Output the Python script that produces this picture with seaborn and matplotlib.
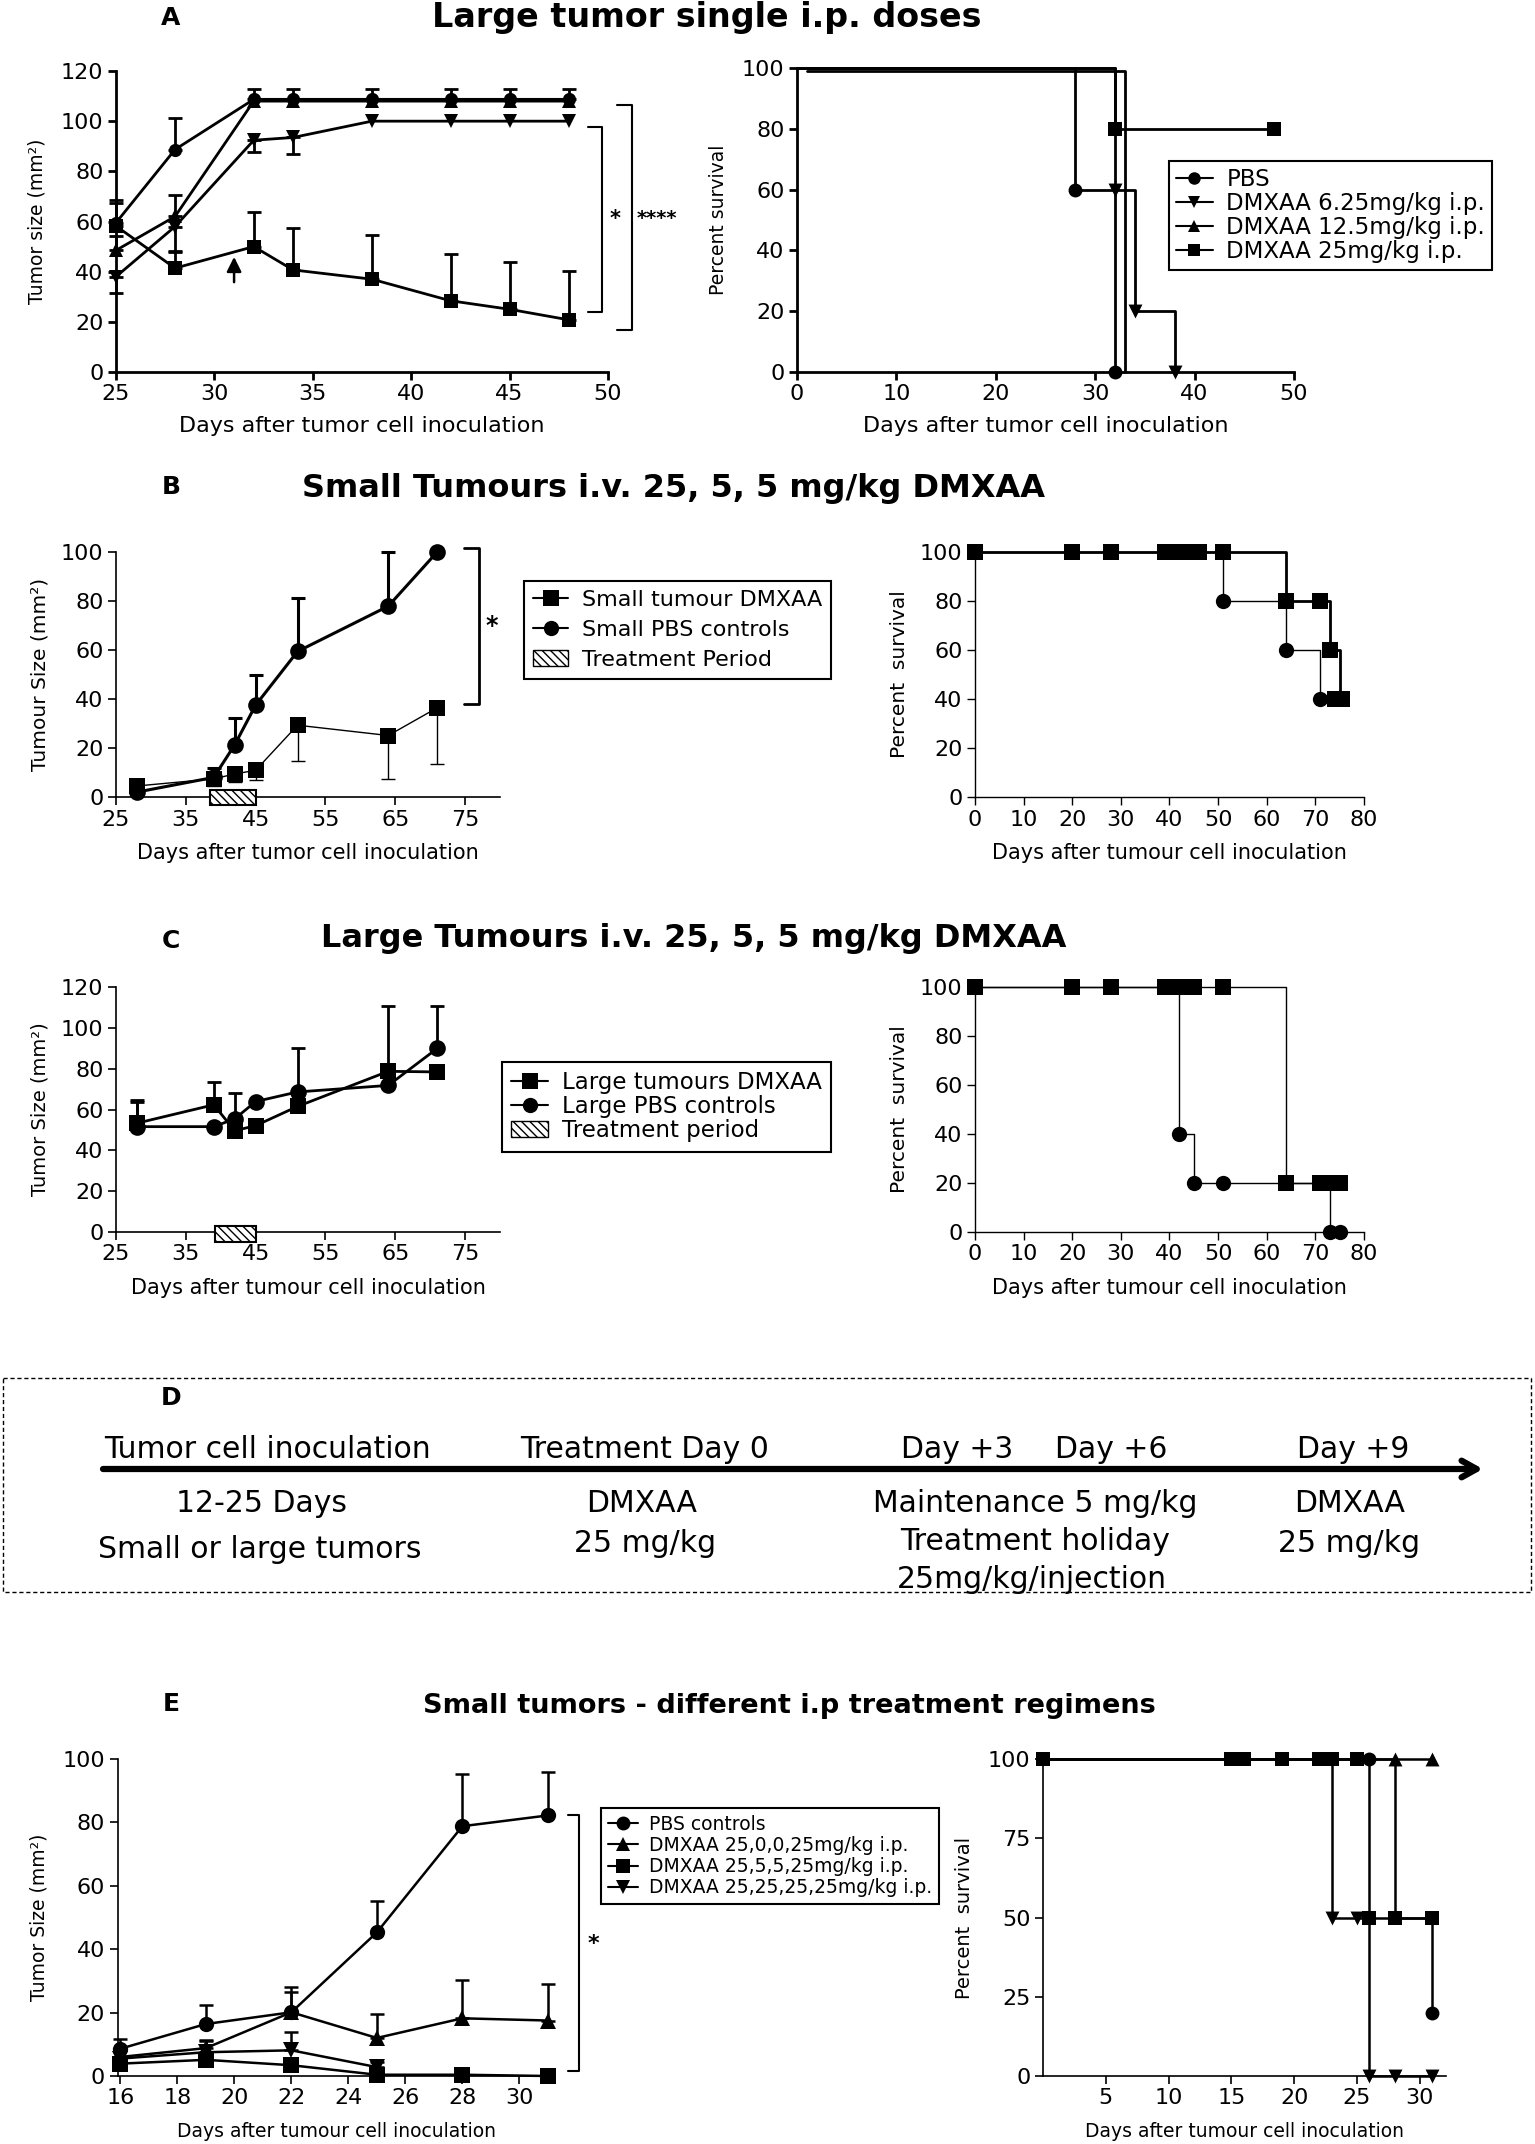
import matplotlib
matplotlib.use("Agg")
import matplotlib.pyplot as plt
from matplotlib.lines import Line2D
from matplotlib.patches import Rectangle, Patch
import seaborn as sns

W, H = 1535, 2144

# ---------------- data ----------------
# A left: large tumours, single i.p. doses (mean tumour size, one-sided SEM)
a_days = [25, 28, 32, 34, 38, 42, 45, 48]
a_pbs = [59.5, 88.7, 108.7, 108.7, 108.7, 108.7, 108.7, 108.7]
a_pbs_err = [8.0, 12.6, 4.3, 4.3, 4.3, 4.3, 4.3, 4.3]
a_d625 = [38.0, 58.0, 92.4, 93.5, 100, 100, 100, 100]
a_d625_err = [6.6, 10.0, 4.7, 6.4, 0, 0, 0, 0]          # below the mean
a_d125 = [48.5, 62.0, 108.0, 108.0, 108.0, 108.0, 108.0, 108.0]
a_d125_err = [5.7, 8.4, 0, 0, 0, 0, 0, 0]
a_d25 = [58.2, 41.4, 50.0, 40.7, 37.0, 28.4, 25.0, 20.8]
a_d25_err = [10.3, 7.0, 13.6, 16.8, 17.5, 18.6, 18.9, 19.6]
a_labels = ["PBS", "DMXAA 6.25mg/kg i.p.", "DMXAA 12.5mg/kg i.p.", "DMXAA 25mg/kg i.p."]

# A right: survival (step points + marked points)
a_s_pbs_t, a_s_pbs = [0, 28, 32], [100, 60, 0]
a_m_pbs_t, a_m_pbs = [28, 32], [60, 0]
a_s_d625_t, a_s_d625 = [0, 32, 34, 38], [100, 60, 20, 0]
a_m_d625_t, a_m_d625 = [32, 34, 38], [60, 20, 0]
a_s_d125_t, a_s_d125 = [1, 33], [99, 0]
a_s_d25_t, a_s_d25 = [0, 32, 48], [100, 80, 80]
a_m_d25_t, a_m_d25 = [32, 48], [80, 80]

# B left: small tumours i.v.
b_days = [28, 39, 42, 45, 51, 64, 71]
b_pbs = [2.0, 8.0, 21.3, 37.5, 59.4, 77.9, 100.0]
b_pbs_err = [0, 3.9, 11.0, 12.4, 21.8, 22.1, 0]
b_dmx = [4.5, 7.4, 9.4, 10.9, 29.3, 25.1, 36.4]
b_dmx_err = [0, 3.0, 3.4, 4.1, 14.7, 17.7, 22.8]        # below the mean
b_treat = [38.5, 45.1]
b_labels = ["Small tumour DMXAA", "Small PBS controls", "Treatment Period"]

# B right: survival
b_s_dmx_t, b_s_dmx = [0, 64, 73, 75], [100, 80, 60, 40]
b_m_dmx_t = [0, 20, 28, 39, 40, 41, 42, 43, 44, 45, 46, 51, 64, 71, 73, 74, 75.5]
b_m_dmx = [100, 100, 100, 100, 100, 100, 100, 100, 100, 100, 100, 100, 80, 80, 60, 40, 40]
b_s_pbs_t, b_s_pbs = [0, 51, 64, 71], [100, 80, 60, 40]
b_m_pbs_t, b_m_pbs = [51, 64, 71], [80, 60, 40]

# C left: large tumours i.v.
c_days = [28, 39, 42, 45, 51, 64, 71]
c_dmx = [53.3, 62.3, 49.6, 52.1, 61.5, 78.7, 78.4]
c_dmx_err = [11.5, 11.2, 0, 0, 0, 32.1, 0]
c_pbs = [51.6, 51.6, 55.4, 63.9, 68.6, 71.8, 89.9]
c_pbs_err = [12.0, 0, 12.6, 0, 21.7, 0, 20.9]
c_treat = [39.2, 45.1]
c_labels = ["Large tumours DMXAA", "Large PBS controls", "Treatment period"]

# C right: survival
c_s_dmx_t, c_s_dmx = [0, 64, 76], [100, 20, 20]
c_m_dmx_t = [0, 20, 28, 39, 42, 45, 51, 64, 71, 72, 73, 74, 75]
c_m_dmx = [100, 100, 100, 100, 100, 100, 100, 20, 20, 20, 20, 20, 20]
c_s_pbs_t, c_s_pbs = [0, 42, 45, 73, 75], [100, 40, 20, 0, 0]
c_m_pbs_t, c_m_pbs = [42, 45, 51, 73, 75], [40, 20, 20, 0, 0]

# E left: small tumours, different i.p. regimens
e_days = [16, 19, 22, 25, 28, 31]
e_pbs = [8.6, 16.4, 20.1, 45.3, 78.8, 82.2]
e_pbs_err = [3.1, 6.0, 7.9, 9.8, 16.6, 13.8]
e_r25005 = [6.0, 8.8, 20.1, 12.0, 18.2, 17.5]
e_r25005_err = [0, 2.7, 6.5, 7.5, 12.2, 11.4]
e_r2555 = [3.9, 5.1, 3.4, 0.4, 0.4, 0.0]
e_r2525_days = [16, 19, 22, 25]
e_r2525 = [5.5, 7.5, 8.1, 2.8]
e_r2525_err = [0, 3.5, 5.7, 1.5]
e_labels = ["PBS controls", "DMXAA 25,0,0,25mg/kg i.p.",
            "DMXAA 25,5,5,25mg/kg i.p.", "DMXAA 25,25,25,25mg/kg i.p."]

# E right: survival
e_s_pbs_t, e_s_pbs = [0, 28, 31], [100, 50, 20]
e_m_pbs_t, e_m_pbs = [26, 31], [100, 20]
e_s_r25005_t, e_s_r25005 = [0, 31], [100, 100]
e_m_r25005_t, e_m_r25005 = [28, 31], [100, 100]
e_s_r2555_t, e_s_r2555 = [0, 26, 31], [100, 50, 50]
e_m_r2555_t = [0, 15, 16, 19, 22, 23, 25, 26, 28, 31]
e_m_r2555 = [100, 100, 100, 100, 100, 100, 100, 50, 50, 50]
e_s_r2525_t, e_s_r2525 = [0, 23, 26, 31], [100, 50, 0, 0]
e_m_r2525_t, e_m_r2525 = [23, 25, 26, 28, 31], [50, 50, 0, 0, 0]

# ---------------- style ----------------
sns.set_theme(style="ticks", rc={
    "axes.edgecolor": "black", "xtick.color": "black", "ytick.color": "black",
    "axes.labelcolor": "black", "text.color": "black",
    "xtick.direction": "out", "ytick.direction": "out",
    "hatch.linewidth": 1.0, "legend.frameon": True,
})
plt.rcParams["font.family"] = ["DejaVu Sans"]

fig = plt.figure(figsize=(W / 100, H / 100), dpi=100)

# background axes in pixel units for titles, letters and panel D
bg = fig.add_axes([0, 0, 1, 1], zorder=-1)
bg.set_xlim(0, W)
bg.set_ylim(H, 0)
bg.axis("off")


def make_ax(x0, x1, ytop, ybot):
    return fig.add_axes([x0 / W, 1 - ybot / H, (x1 - x0) / W, (ybot - ytop) / H])


def style_ax(ax, lw, tick_size=15):
    sns.despine(ax=ax)
    for side in ["left", "bottom"]:
        ax.spines[side].set_linewidth(lw)
    ax.tick_params(length=6, width=lw, labelsize=tick_size, pad=3)
    ax.set_facecolor("none")


def growth(ax, x, y, err, marker, ms, lw, below=False, cap=5):
    sns.lineplot(x=x, y=y, ax=ax, color="black", marker=marker, markersize=ms,
                 markeredgewidth=0, linewidth=lw, estimator=None, sort=False,
                 clip_on=False, zorder=3)
    ex = [xx for xx, e in zip(x, err) if e > 0]
    ey = [yy for yy, e in zip(y, err) if e > 0]
    ee = [e for e in err if e > 0]
    if ex:
        zeros = [0] * len(ee)
        yerr = [ee, zeros] if below else [zeros, ee]
        ax.errorbar(ex, ey, yerr=yerr, fmt="none", ecolor="black", elinewidth=lw,
                    capsize=cap, capthick=lw, zorder=2, clip_on=False)


def survival(ax, t, s, mt, ms_, marker, size, lw):
    sns.lineplot(x=t, y=s, ax=ax, color="black", linewidth=lw, estimator=None,
                 sort=False, drawstyle="steps-post", clip_on=False, zorder=2)
    if mt:
        sns.scatterplot(x=mt, y=ms_, ax=ax, color="black", marker=marker,
                        s=size ** 2, linewidth=0, clip_on=False, zorder=3)


def bracket(ax, x0, x1, ytop, ybot, lw=1.5):
    ax.plot([x0, x1, x1, x0], [ytop, ytop, ybot, ybot], color="black", lw=lw,
            clip_on=False)


def handle(marker, ms=9, lw=1.5):
    return Line2D([0], [0], color="black", marker=marker, markersize=ms,
                  markeredgewidth=0, lw=lw)


def add_legend(handles, labels, x0, y0, fs, spacing, hl=1.6, pad=0.4):
    leg = fig.legend(handles, labels, loc="upper left",
                     bbox_to_anchor=(x0 / W, 1 - y0 / H), fancybox=False,
                     edgecolor="black", borderaxespad=0, fontsize=fs,
                     handlelength=hl, labelspacing=spacing, handletextpad=0.6,
                     borderpad=pad, framealpha=1)
    leg.get_frame().set_linewidth(1.5)
    return leg


treat_hatch = "\\\\\\\\"

# ---------------- titles / panel letters ----------------
bg.text(171, 18, "A", fontsize=18, fontweight="bold", ha="center", va="center")
bg.text(707, 18, "Large tumor single i.p. doses", fontsize=24, fontweight="bold",
        ha="center", va="center")
bg.text(171, 487, "B", fontsize=18, fontweight="bold", ha="center", va="center")
bg.text(673, 489, "Small Tumours i.v. 25, 5, 5 mg/kg DMXAA", fontsize=23,
        fontweight="bold", ha="center", va="center")
bg.text(171, 941, "C", fontsize=18, fontweight="bold", ha="center", va="center")
bg.text(694, 938, "Large Tumours i.v. 25, 5, 5 mg/kg DMXAA", fontsize=23,
        fontweight="bold", ha="center", va="center")
bg.text(171, 1704, "E", fontsize=18, fontweight="bold", ha="center", va="center")
bg.text(789, 1706, "Small tumors - different i.p treatment regimens", fontsize=19.5,
        fontweight="bold", ha="center", va="center")

# ---------------- A left ----------------
ax = make_ax(116, 608, 71, 372)
style_ax(ax, 2.0, 16)
growth(ax, a_days, a_pbs, a_pbs_err, "o", 9.5, 2.0)
growth(ax, a_days, a_d625, a_d625_err, "v", 9.5, 2.0, below=True)
growth(ax, a_days, a_d125, a_d125_err, "^", 9.5, 2.0)
growth(ax, a_days, a_d25, a_d25_err, "s", 9.5, 2.0)
ax.set_xlim(25, 50)
ax.set_ylim(0, 120)
ax.set_xticks(range(25, 51, 5))
ax.set_yticks(range(0, 121, 20))
ax.set_xlabel("Days after tumor cell inoculation", fontsize=16, labelpad=8)
ax.set_ylabel("Tumor size (mm²)", fontsize=13.5, labelpad=10)
ax.annotate("", xy=(31, 47), xytext=(31, 34.7),
            arrowprops=dict(arrowstyle="-|>", color="black", lw=1.8, mutation_scale=22))
bracket(ax, 49.0, 49.7, 97.7, 23.9)
bracket(ax, 50.45, 51.2, 106.6, 16.6)
ax.text(50.35, 61, "*", fontsize=15, fontweight="bold", ha="center", va="center")
ax.text(52.5, 61, "****", fontsize=14, fontweight="bold", ha="center", va="center")

# ---------------- A right ----------------
ax = make_ax(797, 1294, 68, 372)
style_ax(ax, 2.0, 16)
survival(ax, a_s_pbs_t, a_s_pbs, a_m_pbs_t, a_m_pbs, "o", 10, 2.0)
survival(ax, a_s_d625_t, a_s_d625, a_m_d625_t, a_m_d625, "v", 10, 2.0)
survival(ax, a_s_d125_t, a_s_d125, [], [], "^", 10, 2.0)
survival(ax, a_s_d25_t, a_s_d25, a_m_d25_t, a_m_d25, "s", 10, 2.0)
ax.set_xlim(0, 50)
ax.set_ylim(0, 100)
ax.set_xticks(range(0, 51, 10))
ax.set_yticks(range(0, 101, 20))
ax.set_xlabel("Days after tumor cell inoculation", fontsize=16, labelpad=8)
ax.set_ylabel("Percent survival", fontsize=13.5, labelpad=10)
add_legend([handle("o"), handle("v"), handle("^"), handle("s")], a_labels,
           1169, 161, 16.5, 0.05, pad=0.3)

# ---------------- B left ----------------
ax = make_ax(116, 500, 552, 797)
style_ax(ax, 1.2, 16)
growth(ax, b_days, b_pbs, b_pbs_err, "o", 12, 2.2)
growth(ax, b_days, b_dmx, b_dmx_err, "s", 12, 1.0, below=True)
ax.add_patch(Rectangle((b_treat[0], -3.1), b_treat[1] - b_treat[0], 6.1,
                       facecolor="white", edgecolor="black", hatch=treat_hatch,
                       lw=1.5, clip_on=False, zorder=4))
ax.set_xlim(25, 80)
ax.set_ylim(0, 100)
ax.set_xticks(range(25, 76, 10))
ax.set_yticks(range(0, 101, 20))
ax.set_xlabel("Days after tumor cell inoculation", fontsize=15, labelpad=10)
ax.set_ylabel("Tumour Size (mm²)", fontsize=14.5, labelpad=8)
bracket(ax, 74.9, 77.0, 101.8, 38.0, lw=2)
ax.text(78.8, 69.8, "*", fontsize=17, fontweight="bold", ha="center", va="center")
add_legend([handle("s", 11), handle("o", 11),
            Patch(facecolor="white", edgecolor="black", hatch=treat_hatch)],
           b_labels, 524, 581, 16, 0.45)

# ---------------- B right ----------------
ax = make_ax(975, 1364, 552, 797)
style_ax(ax, 1.0, 16)
survival(ax, b_s_pbs_t, b_s_pbs, b_m_pbs_t, b_m_pbs, "o", 11, 1.0)
survival(ax, b_s_dmx_t, b_s_dmx, b_m_dmx_t, b_m_dmx, "s", 12, 2.0)
ax.set_xlim(0, 80)
ax.set_ylim(0, 100)
ax.set_xticks(range(0, 81, 10))
ax.set_yticks(range(0, 101, 20))
ax.set_xlabel("Days after tumour cell inoculation", fontsize=15, labelpad=10)
ax.set_ylabel("Percent  survival", fontsize=14.5, labelpad=8)

# ---------------- C left ----------------
ax = make_ax(116, 500, 987, 1232)
style_ax(ax, 1.2, 16)
growth(ax, c_days, c_dmx, c_dmx_err, "s", 12, 2.0)
growth(ax, c_days, c_pbs, c_pbs_err, "o", 12, 2.0)
ax.add_patch(Rectangle((c_treat[0], -5.1), c_treat[1] - c_treat[0], 7.9,
                       facecolor="white", edgecolor="black", hatch=treat_hatch,
                       lw=1.5, clip_on=False, zorder=4))
ax.set_xlim(25, 80)
ax.set_ylim(0, 120)
ax.set_xticks(range(25, 76, 10))
ax.set_yticks(range(0, 121, 20))
ax.set_xlabel("Days after tumour cell inoculation", fontsize=15, labelpad=10)
ax.set_ylabel("Tumor Size (mm²)", fontsize=14, labelpad=8)
add_legend([handle("s", 11), handle("o", 11),
            Patch(facecolor="white", edgecolor="black", hatch=treat_hatch)],
           c_labels, 502, 1062, 16.5, 0.05)

# ---------------- C right ----------------
ax = make_ax(975, 1364, 987, 1232)
style_ax(ax, 1.0, 16)
survival(ax, c_s_pbs_t, c_s_pbs, c_m_pbs_t, c_m_pbs, "o", 11, 1.0)
survival(ax, c_s_dmx_t, c_s_dmx, c_m_dmx_t, c_m_dmx, "s", 12, 1.0)
ax.set_xlim(0, 80)
ax.set_ylim(0, 100)
ax.set_xticks(range(0, 81, 10))
ax.set_yticks(range(0, 101, 20))
ax.set_xlabel("Days after tumour cell inoculation", fontsize=15, labelpad=10)
ax.set_ylabel("Percent  survival", fontsize=14.5, labelpad=8)

# ---------------- D (schedule) ----------------
bg.add_patch(Rectangle((3, 1378), 1528, 214, fill=False, edgecolor="black",
                       lw=1.0, ls=(0, (3, 2))))
bg.annotate("", xy=(1483, 1469), xytext=(103, 1469),
            arrowprops=dict(arrowstyle="->,head_length=0.9,head_width=0.5",
                            lw=4.5, color="black", shrinkA=0, shrinkB=0))
bg.text(171, 1398, "D", fontsize=18, fontweight="bold", ha="center", va="center")
d_texts = [
    (267, 1450, "Tumor cell inoculation"), (645, 1450, "Treatment Day 0"),
    (957, 1450, "Day +3"), (1111, 1450, "Day +6"), (1353, 1450, "Day +9"),
    (262, 1504, "12-25 Days"), (260, 1550, "Small or large tumors"),
    (642, 1504, "DMXAA"), (645, 1544, "25 mg/kg"),
    (1035, 1504, "Maintenance 5 mg/kg"), (1035, 1542, "Treatment holiday"),
    (1032, 1580, "25mg/kg/injection"),
    (1350, 1504, "DMXAA"), (1349, 1544, "25 mg/kg"),
]
for x, y, s in d_texts:
    bg.text(x, y, s, fontsize=21.5, ha="center", va="center")

# ---------------- E left ----------------
ax = make_ax(117.5, 555, 1759, 2076)
style_ax(ax, 1.2, 16)
growth(ax, e_days, e_pbs, e_pbs_err, "o", 11, 1.8)
growth(ax, e_days, e_r25005, e_r25005_err, "^", 11, 1.8)
growth(ax, e_days, e_r2555, [0] * len(e_days), "s", 11, 1.8)
growth(ax, e_r2525_days, e_r2525, e_r2525_err, "v", 11, 1.8)
ax.set_xlim(15.9, 31.25)
ax.set_ylim(0, 100)
ax.set_xticks(range(16, 31, 2))
ax.set_yticks(range(0, 101, 20))
ax.set_xlabel("Days after tumour cell inoculation", fontsize=13.5, labelpad=10)
ax.set_ylabel("Tumor Size (mm²)", fontsize=13.5, labelpad=10)
bracket(ax, 31.7, 32.1, 82.2, 1.5)
ax.text(32.6, 41.6, "*", fontsize=16, fontweight="bold", ha="center", va="center")
add_legend([handle("o", 10), handle("^", 10), handle("s", 10), handle("v", 10)],
           e_labels, 601, 1808, 13.5, 0.12, pad=0.35)

# ---------------- E right ----------------
ax = make_ax(1043, 1446, 1759, 2076)
style_ax(ax, 1.2, 16)
survival(ax, e_s_pbs_t, e_s_pbs, e_m_pbs_t, e_m_pbs, "o", 10, 1.8)
survival(ax, e_s_r25005_t, e_s_r25005, e_m_r25005_t, e_m_r25005, "^", 10, 1.8)
survival(ax, e_s_r2555_t, e_s_r2555, e_m_r2555_t, e_m_r2555, "s", 10, 1.8)
survival(ax, e_s_r2525_t, e_s_r2525, e_m_r2525_t, e_m_r2525, "v", 10, 1.8)
ax.set_xlim(0, 32.1)
ax.set_ylim(0, 100)
ax.set_xticks(range(5, 31, 5))
ax.set_yticks(range(0, 101, 25))
ax.set_xlabel("Days after tumour cell inoculation", fontsize=13.5, labelpad=10)
ax.set_ylabel("Percent  survival", fontsize=14, labelpad=10)

fig.savefig("out.png", dpi=100)
